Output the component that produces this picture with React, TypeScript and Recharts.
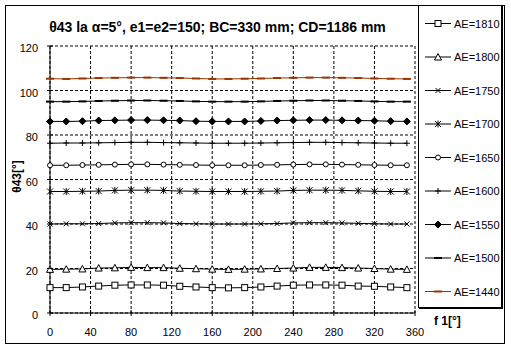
import React from "react";
import { LineChart, Line, XAxis, YAxis, CartesianGrid, Legend } from "recharts";

const FONT = "'Liberation Sans', Arial, sans-serif";

// f1 angles [deg]
const angles = [0, 16, 32, 48, 64, 80, 96, 112, 128, 144, 160, 176, 192, 208, 224, 240, 256, 272, 288, 304, 320, 336, 352];

const ae1810 = [11.4, 11.4, 11.7, 12.1, 12.5, 12.6, 12.6, 12.5, 12.0, 11.7, 11.4, 11.3, 11.4, 11.7, 12.1, 12.5, 12.6, 12.6, 12.5, 12.1, 12.0, 11.7, 11.4];
const ae1800 = [19.6, 19.7, 19.8, 20.2, 20.3, 20.5, 20.4, 20.4, 20.1, 19.9, 19.7, 19.6, 19.7, 19.8, 20.0, 20.2, 20.5, 20.5, 20.4, 20.2, 20.0, 19.7, 19.6];
const ae1750 = [40.0, 40.1, 40.1, 40.2, 40.5, 40.6, 40.6, 40.5, 40.2, 40.1, 40.0, 40.0, 40.0, 40.1, 40.2, 40.5, 40.6, 40.6, 40.5, 40.3, 40.1, 40.0, 40.0];
const ae1700 = [54.6, 54.6, 54.7, 54.8, 55.1, 55.2, 55.2, 55.1, 54.8, 54.7, 54.6, 54.6, 54.6, 54.7, 54.8, 55.1, 55.2, 55.2, 55.1, 54.9, 54.7, 54.6, 54.6];
const ae1650 = [66.4, 66.4, 66.5, 66.6, 66.7, 66.8, 66.8, 66.7, 66.6, 66.5, 66.4, 66.4, 66.4, 66.5, 66.6, 66.7, 66.8, 66.8, 66.7, 66.6, 66.5, 66.4, 66.4];
const ae1600 = [76.3, 76.4, 76.4, 76.5, 76.6, 76.7, 76.7, 76.6, 76.5, 76.4, 76.3, 76.3, 76.3, 76.4, 76.5, 76.6, 76.7, 76.7, 76.6, 76.5, 76.4, 76.3, 76.3];
const ae1550 = [86.1, 86.1, 86.2, 86.5, 86.6, 86.7, 86.7, 86.6, 86.5, 86.2, 86.1, 86.1, 86.1, 86.3, 86.5, 86.6, 86.7, 86.7, 86.6, 86.5, 86.4, 86.2, 86.1];
const ae1500 = [95.0, 95.0, 95.1, 95.3, 95.4, 95.5, 95.5, 95.4, 95.3, 95.1, 95.0, 95.0, 95.0, 95.1, 95.3, 95.4, 95.5, 95.5, 95.4, 95.3, 95.1, 95.0, 95.0];
const ae1440 = [105.3, 105.2, 105.4, 105.6, 105.7, 105.8, 105.8, 105.7, 105.6, 105.4, 105.2, 105.2, 105.3, 105.4, 105.6, 105.7, 105.8, 105.8, 105.7, 105.6, 105.4, 105.3, 105.2];

const xTicks = [0, 40, 80, 120, 160, 200, 240, 280, 320, 360];
const yTicks = [0, 20, 40, 60, 80, 100, 120];

type MarkerKind = "square" | "triangle" | "x" | "star" | "circle" | "plus" | "diamond" | "dash";

const series: { key: string; name: string; values: number[]; color: string; marker: MarkerKind }[] = [
    { key: "ae1810", name: "AE=1810", values: ae1810, color: "#000", marker: "square" },
    { key: "ae1800", name: "AE=1800", values: ae1800, color: "#000", marker: "triangle" },
    { key: "ae1750", name: "AE=1750", values: ae1750, color: "#000", marker: "x" },
    { key: "ae1700", name: "AE=1700", values: ae1700, color: "#000", marker: "star" },
    { key: "ae1650", name: "AE=1650", values: ae1650, color: "#000", marker: "circle" },
    { key: "ae1600", name: "AE=1600", values: ae1600, color: "#000", marker: "plus" },
    { key: "ae1550", name: "AE=1550", values: ae1550, color: "#000", marker: "diamond" },
    { key: "ae1500", name: "AE=1500", values: ae1500, color: "#000", marker: "dash" },
    { key: "ae1440", name: "AE=1440", values: ae1440, color: "#993300", marker: "dash" },
];

const data = angles.map((f, i) => {
    const row: Record<string, number> = { f };
    series.forEach((s) => (row[s.key] = s.values[i]));
    return row;
});

const Marker = ({ kind, cx, cy, color }: { kind: MarkerKind; cx: number; cy: number; color: string }) => {
    switch (kind) {
        case "square":
            return <rect x={cx - 3} y={cy - 3} width={6} height={6} fill="#fff" stroke={color} />;
        case "triangle":
            return <polygon points={`${cx},${cy - 3.5} ${cx + 3.5},${cy + 3} ${cx - 3.5},${cy + 3}`} fill="#fff" stroke={color} />;
        case "x":
            return <path d={`M${cx - 2.5},${cy - 2.5}L${cx + 2.5},${cy + 2.5}M${cx + 2.5},${cy - 2.5}L${cx - 2.5},${cy + 2.5}`} stroke={color} />;
        case "star":
            return (
                <path
                    d={`M${cx - 3},${cy - 3}L${cx + 3},${cy + 3}M${cx + 3},${cy - 3}L${cx - 3},${cy + 3}M${cx},${cy - 3.5}L${cx},${cy + 3.5}`}
                    stroke={color}
                />
            );
        case "circle":
            return <circle cx={cx} cy={cy} r={2.5} fill="#fff" stroke={color} />;
        case "plus":
            return <path d={`M${cx - 3},${cy}L${cx + 3},${cy}M${cx},${cy - 3}L${cx},${cy + 3}`} stroke={color} />;
        case "diamond":
            return <polygon points={`${cx},${cy - 3.5} ${cx + 3.5},${cy} ${cx},${cy + 3.5} ${cx - 3.5},${cy}`} fill={color} stroke={color} />;
        case "dash":
            return <rect x={cx - 4} y={cy - 1} width={8} height={2} fill={color} />;
    }
    return null;
};

const XTick = (props: any) => {
    const { x, y, payload } = props;
    return (
        <g>
            <line x1={x} x2={x} y1={y - 3} y2={y + 3} stroke="#000" />
            <text x={x} y={y + 23} textAnchor="middle" fontSize={11} fontFamily={FONT} fill="#000">
                {payload.value}
            </text>
        </g>
    );
};

const YTick = (props: any) => {
    const { x, y, payload } = props;
    return (
        <g>
            <line x1={x - 3} x2={x + 3} y1={y} y2={y} stroke="#000" />
            <text x={x - 12} y={y + 6} textAnchor="end" fontSize={11} fontFamily={FONT} fill="#000">
                {payload.value}
            </text>
        </g>
    );
};

const LegendBox = () => (
    <div
        style={{
            width: 84,
            height: 303,
            boxSizing: "border-box",
            border: "1px solid #000",
            boxShadow: "1px 1px 0 #000",
            background: "#fff",
            position: "relative",
        }}
    >
        <svg width={82} height={301} style={{ position: "absolute", left: 0, top: 0 }}>
            {series.map((s, i) => {
                const cy = 17.5 + i * 33.5;
                return (
                    <g key={s.key}>
                        <line x1={6} x2={32} y1={cy} y2={cy} stroke={s.color} />
                        <Marker kind={s.marker} cx={19} cy={cy} color={s.color} />
                        <text x={35} y={cy + 4} fontSize={11} fontFamily={FONT} fill="#000">
                            {s.name}
                        </text>
                    </g>
                );
            })}
        </svg>
    </div>
);

export default function App() {
    return (
        <div style={{ position: "absolute", left: 0, top: 0, width: 511, height: 350, background: "#fff" }}>
            <div
                style={{
                    position: "absolute",
                    left: 5,
                    top: 5,
                    width: 500,
                    height: 339,
                    boxSizing: "border-box",
                    border: "1px solid #000",
                }}
            />
            <div
                style={{
                    position: "absolute",
                    left: 0,
                    top: 19,
                    width: 435,
                    textAlign: "center",
                    fontFamily: FONT,
                    fontWeight: "bold",
                    fontSize: 14,
                    lineHeight: "16px",
                }}
            >
                θ43 la α=5°, e1=e2=150; BC=330 mm; CD=1186 mm
            </div>
            <LineChart width={511} height={350} data={data} margin={{ top: 46, right: 96, bottom: 0, left: 0 }}>
                <CartesianGrid stroke="#000" strokeDasharray="3 2" />
                <XAxis
                    dataKey="f"
                    type="number"
                    domain={[0, 360]}
                    ticks={xTicks}
                    height={37}
                    stroke="#000"
                    tickLine={false}
                    tickSize={0}
                    tickMargin={0}
                    tick={XTick}
                    label={{
                        value: "f 1[°]",
                        position: "right",
                        dx: 14,
                        dy: -11,
                        fontSize: 12,
                        fontWeight: "bold",
                        fontFamily: FONT,
                        fill: "#000",
                    }}
                />
                <YAxis
                    type="number"
                    domain={[0, 120]}
                    ticks={yTicks}
                    width={50}
                    stroke="#000"
                    tickLine={false}
                    tickSize={0}
                    tickMargin={0}
                    tick={YTick}
                    label={{
                        value: "θ43[°]",
                        angle: -90,
                        position: "center",
                        dx: -8,
                        dy: -3,
                        fontSize: 12,
                        fontWeight: "bold",
                        fontFamily: FONT,
                        fill: "#000",
                    }}
                />
                <Legend
                    layout="vertical"
                    align="center"
                    verticalAlign="middle"
                    content={() => <LegendBox />}
                    wrapperStyle={{ left: 418, top: 5, width: 84, height: 303 }}
                />
                {series.map((s) => (
                    <Line
                        key={s.key}
                        type="linear"
                        dataKey={s.key}
                        name={s.name}
                        stroke={s.color}
                        strokeWidth={1}
                        isAnimationActive={false}
                        dot={(p: any) => (
                            <Marker key={`${s.key}-${p.index}`} kind={s.marker} cx={p.cx} cy={p.cy} color={s.color} />
                        )}
                        activeDot={false}
                    />
                ))}
            </LineChart>
        </div>
    );
}
